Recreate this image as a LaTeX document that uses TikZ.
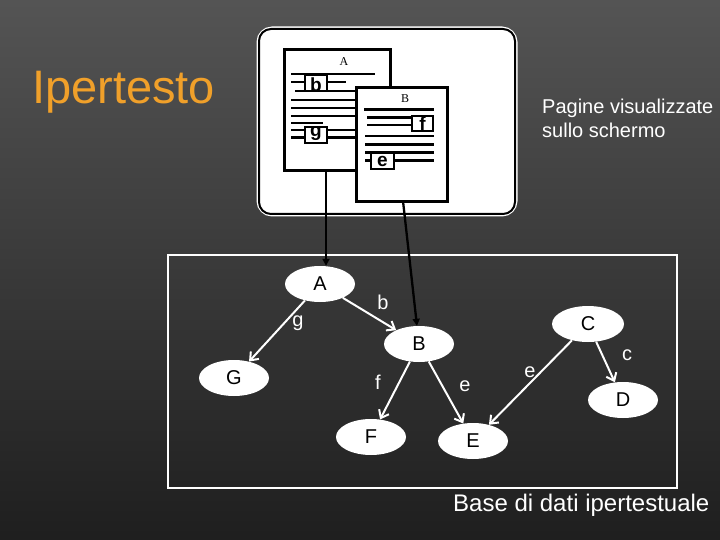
\documentclass[tikz,border=0pt]{standalone}
\usepackage{fontspec}
\setmainfont{Liberation Sans}
\newfontfamily\serifA{Liberation Serif}
\usetikzlibrary{shapes.geometric,arrows.meta}
\definecolor{orangeT}{HTML}{F0A02A}
\begin{document}
\begin{tikzpicture}[x=1pt,y=-1pt,
  nd/.style={ellipse, fill=white, minimum width=70pt, minimum height=36pt, inner sep=0pt, font=\fontsize{20}{24}\selectfont, text=black},
  lnk/.style={white, line width=2pt, -{Straight Barb[length=7pt,width=11pt]}},
  lbl/.style={text=white, font=\fontsize{20}{24}\selectfont, inner sep=0pt},
  ptr/.style={black, line width=2.3pt, -{Triangle[length=7pt,width=7pt]}},
  pl/.style={line width=2.5pt},
  bx/.style={draw=black, fill=white, line width=2.3pt},
  page/.style={draw=black, fill=white, line width=2.7pt, inner sep=0pt, anchor=north west},
  boxl/.style={font=\bfseries\fontsize{19}{20}\selectfont, inner sep=0pt, anchor=base},
]
% background
\shade[top color=black!67, bottom color=black!88] (0,0) rectangle (720,540);
\useasboundingbox (0,0) rectangle (720,540);

% title
\node[text=orangeT, font=\fontsize{47}{50}\selectfont, inner sep=0pt, anchor=base west] (title) at (32,104) {Ipertesto};

% screen frame
\draw[white, line width=5pt, fill=white, rounded corners=13pt] (259,29) rectangle (515,214);
\draw[black, line width=2pt, rounded corners=12pt] (259,29) rectangle (515,214);

% page A
\node[page, minimum width=106pt, minimum height=121pt] (pageA) at (283,48) {};
\node[font=\serifA\fontsize{12}{14}\selectfont, inner sep=0pt] (labA) at (344,62) {A};
\draw[pl] (291,74) -- (375,74);
\draw[pl] (291,82) -- (346,82);
\draw[pl] (295,91) -- (356,91);
\draw[pl] (291,100) -- (356,100);
\draw[pl] (291,108) -- (356,108);
\draw[pl] (291,116) -- (356,116);
\draw[pl] (291,123) -- (323,123);
\draw[pl] (291,130) -- (356,130);
\draw[pl] (291,137.5) -- (356,137.5);
\draw[bx] (305,75) rectangle (327,91);
\begin{scope}\clip (305,76) rectangle (327,91);
\node[boxl] (lb) at (316,92) {b};\end{scope}
\draw[bx] (305,127) rectangle (327,143);
\begin{scope}\clip (305,128) rectangle (327,143);
\node[boxl] (lg) at (316,137) {g};\end{scope}

% page B
\node[page, minimum width=91pt, minimum height=114pt] (pageB) at (355,86) {};
\node[font=\serifA\fontsize{12}{14}\selectfont, inner sep=0pt] (labB) at (405,99) {B};
\draw[pl] (364,109.5) -- (434,109.5);
\draw[pl] (367,117.5) -- (412,117.5);
\draw[pl] (367,125) -- (412,125);
\draw[pl] (365,136) -- (434,136);
\draw[pl] (365,144.5) -- (434,144.5);
\draw[pl] (365,152.5) -- (434,152.5);
\draw[pl] (365,160.5) -- (434,160.5);
\draw[bx] (412,116) rectangle (433,131);
\begin{scope}\clip (412,117) rectangle (433,131);
\node[boxl] (lf) at (422.5,131) {f};\end{scope}
\draw[bx] (371,153) rectangle (394,169);
\begin{scope}\clip (371,155) rectangle (394,169);
\node[boxl] (le) at (382.5,167) {e};\end{scope}

% screen caption
\node[text=white, font=\fontsize{20}{23.5}\selectfont, inner sep=0pt, anchor=north west, align=left] (cap1) at (542,99) {Pagine visualizzate\\sullo schermo};

% database frame
\draw[white, line width=2pt] (168,255) rectangle (677,488);

% graph nodes
\node[nd] (A) at (320,284) {A};
\node[nd] (B) at (419,344) {B};
\node[nd] (G) at (234,378) {G};
\node[nd] (F) at (371,437) {F};
\node[nd] (E) at (473,441) {E};
\node[nd, minimum width=72pt] (C) at (588,324) {C};
\node[nd] (D) at (623,400) {D};

% graph links
\draw[lnk] (A) -- (G);
\draw[lnk] (A) -- (B);
\draw[lnk] (B) -- (F);
\draw[lnk] (B) -- (E);
\draw[lnk] (C) -- (E);
\draw[lnk] (C) -- (D);
\node[lbl] (tg) at (298,323) {g};
\node[lbl] (tb) at (383,302) {b};
\node[lbl] (tf) at (378,382) {f};
\node[lbl] (te1) at (465,386) {e};
\node[lbl] (te2) at (530,372) {e};
\node[lbl] (tc) at (627,355) {c};

% pointers from pages to graph
\coordinate (pa) at (326,170);
\coordinate (pb) at (403,201);
\draw[ptr] (pa) -- (pa |- A.north);
\draw[ptr] (pb) -- (B);

% database caption
\node[text=white, font=\fontsize{24}{28}\selectfont, inner sep=0pt, anchor=base west] (cap2) at (453,511) {Base di dati ipertestuale};
\end{tikzpicture}
\end{document}
